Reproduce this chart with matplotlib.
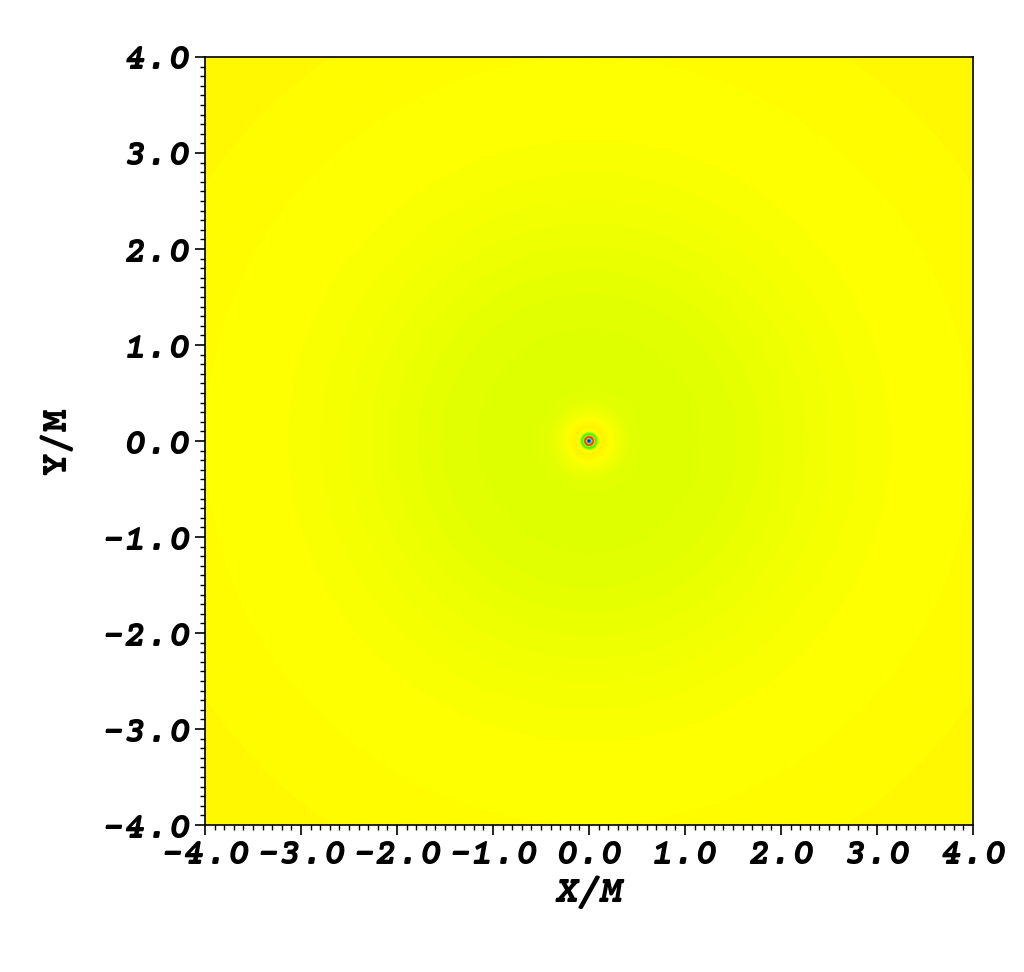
import numpy as np
import matplotlib
matplotlib.use("Agg")
import matplotlib.pyplot as plt
from matplotlib.colors import LinearSegmentedColormap
from matplotlib.ticker import MultipleLocator, FormatStrFormatter

# radial profile of the field (r in M, value in colour units)
prof_r = [0.0, 0.018, 0.035, 0.052, 0.07, 0.085, 0.1, 0.14, 0.2, 0.3, 0.45, 0.7, 1.0,
          1.5, 2.0, 2.5, 3.0, 3.5, 4.0, 4.5, 5.0, 5.7]
prof_v = [0.0, 0.05, 1.0, 0.9, 0.5, 0.64, 0.745, 0.76, 0.753, 0.735, 0.72, 0.716, 0.717,
          0.722, 0.73, 0.738, 0.745, 0.749, 0.75, 0.752, 0.755, 0.758]

xlim = [-4.0, 4.0]
ylim = [-4.0, 4.0]

plt.rcParams['font.family'] = ['Courier Prime', 'FreeMono', 'DejaVu Sans']
plt.rcParams['font.weight'] = 'bold'
plt.rcParams['font.style'] = 'italic'
plt.rcParams['axes.unicode_minus'] = False

hot = LinearSegmentedColormap.from_list(
    'visit_hot', [(0, 0, 1), (0, 1, 1), (0, 1, 0), (1, 1, 0), (1, 0, 0)])

n = 801
xs = np.linspace(xlim[0], xlim[1], n)
X, Y = np.meshgrid(xs, xs)
R = np.hypot(X, Y)
field = np.interp(R, prof_r, prof_v)

fig = plt.figure(figsize=(10.24, 9.72), dpi=100)
ax = fig.add_axes([205/1024, 147/972, 768/1024, 768/972])
ax.imshow(field, cmap=hot, vmin=0, vmax=1, origin='lower',
          extent=[xlim[0], xlim[1], ylim[0], ylim[1]], interpolation='bilinear')
ax.set_xlim(xlim)
ax.set_ylim(ylim)
ax.set_aspect('auto')

for ax_ in [ax.xaxis, ax.yaxis]:
    ax_.set_major_locator(MultipleLocator(1.0))
    ax_.set_minor_locator(MultipleLocator(0.1))
    ax_.set_major_formatter(FormatStrFormatter('%.1f'))
ax.tick_params(which='major', direction='out', length=7, width=1.2, pad=3,
               labelsize=27, top=False, right=False)
ax.tick_params(which='minor', direction='out', length=3.5, width=1.0,
               top=False, right=False)
for sp in ax.spines.values():
    sp.set_linewidth(1.2)

ax.set_xlabel('X/M', fontsize=27, fontweight='bold', fontstyle='italic', labelpad=3)
ax.set_ylabel('Y/M', fontsize=27, fontweight='bold', fontstyle='normal', labelpad=20)

fig.savefig('out.png', dpi=100)
